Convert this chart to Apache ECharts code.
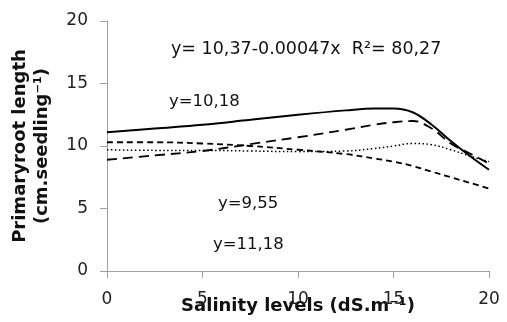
<!DOCTYPE html>
<html>
<head>
<meta charset="UTF-8">
<style>
  html, body { margin: 0; padding: 0; background: #fff; }
  #chart { width: 507px; height: 322px; }
</style>
</head>
<body>
<div id="chart"></div>
<script src="https://cdn.jsdelivr.net/npm/echarts@6/dist/echarts.min.js"></script>
<script>
// salinity levels (dS.m-1)
var salinity = [0, 2.5, 5, 7.5, 10, 12.5, 14, 15, 16, 17, 18, 19, 20];
// primary root length
var solidLine  = [11.1, 11.4, 11.7, 12.1, 12.5, 12.85, 13.0, 13.0, 12.7, 11.7, 10.4, 9.2, 8.1];
var longDash   = [8.9, 9.25, 9.6, 10.15, 10.7, 11.3, 11.7, 11.9, 12.0, 11.4, 10.2, 9.4, 8.6];
var dotted     = [9.7, 9.65, 9.65, 9.6, 9.55, 9.6, 9.8, 10.0, 10.2, 10.1, 9.7, 9.2, 8.75];
var shortDash  = [10.3, 10.3, 10.2, 10.0, 9.7, 9.35, 9.0, 8.75, 8.4, 7.95, 7.5, 7.05, 6.6];
var xTicks = [0, 5, 10, 15, 20];
var yTicks = [0, 5, 10, 15, 20];

var font = 'DejaVu Sans, Verdana, sans-serif';

function pairs(vals) {
    var out = [];
    for (var i = 0; i < salinity.length; i++) {
        out.push([salinity[i], vals[i]]);
    }
    return out;
}

function mkSeries(vals, type, width) {
    return {
        type: 'line',
        data: pairs(vals),
        smooth: 0.4,
        symbol: 'none',
        lineStyle: { color: '#000', width: width, type: type }
    };
}

var chart = echarts.init(document.getElementById('chart'));

var option = {
    animation: false,
    grid: { left: 107, right: 18, top: 21, bottom: 51, outerBoundsMode: 'none' },
    xAxis: {
        type: 'value',
        min: xTicks[0],
        max: xTicks[xTicks.length - 1],
        interval: 5,
        name: 'Salinity levels (dS.m\u207B\u00B9)',
        nameLocation: 'middle',
        nameGap: 26,
        nameMoveOverlap: false,
        nameTextStyle: { fontFamily: font, fontSize: 18, fontWeight: 'bold', color: '#111' },
        axisLine: { lineStyle: { color: '#a0a0a0', width: 1 } },
        axisTick: { show: true, length: 7, lineStyle: { color: '#a0a0a0' } },
        axisLabel: { margin: 20, fontFamily: font, fontSize: 17, color: '#222' },
        splitLine: { show: false }
    },
    yAxis: {
        type: 'value',
        min: yTicks[0],
        max: yTicks[yTicks.length - 1],
        interval: 5,
        name: 'Primaryroot length\n(cm.seedling\u207B\u00B9)',
        nameLocation: 'middle',
        nameGap: 54,
        nameMoveOverlap: false,
        nameTextStyle: { fontFamily: font, fontSize: 18, fontWeight: 'bold', color: '#111', lineHeight: 22 },
        axisLine: { show: true, lineStyle: { color: '#a0a0a0', width: 1 } },
        axisTick: { show: true, length: 7, lineStyle: { color: '#a0a0a0' } },
        axisLabel: { margin: 19, fontFamily: font, fontSize: 17, color: '#222' },
        splitLine: { show: false }
    },
    series: [
        mkSeries(solidLine, 'solid', 2),
        mkSeries(longDash, [10, 6], 1.8),
        mkSeries(dotted, [1.5, 2.5], 1.5),
        mkSeries(shortDash, [6, 4], 1.8)
    ],
    graphic: [
        { type: 'text', left: 171, top: 40, style: { text: 'y= 10,37-0.00047x  R\u00B2= 80,27', fontFamily: font, fontSize: 17.5, fill: '#111' } },
        { type: 'text', left: 169, top: 93, style: { text: 'y=10,18', fontFamily: font, fontSize: 16.5, fill: '#111' } },
        { type: 'text', left: 218, top: 195, style: { text: 'y=9,55', fontFamily: font, fontSize: 16.5, fill: '#111' } },
        { type: 'text', left: 213, top: 236, style: { text: 'y=11,18', fontFamily: font, fontSize: 16.5, fill: '#111' } }
    ]
};

chart.setOption(option);
</script>
</body>
</html>
